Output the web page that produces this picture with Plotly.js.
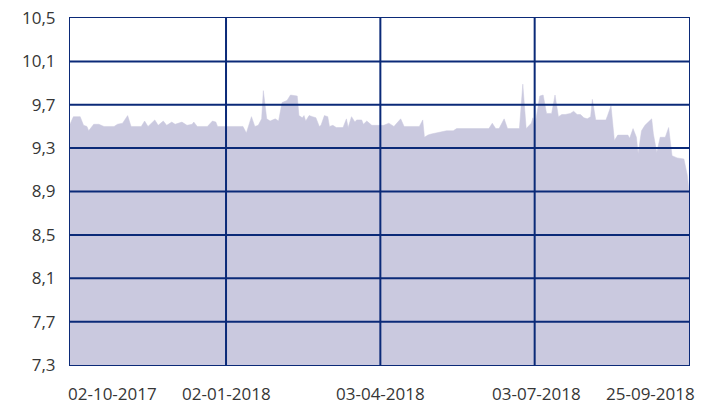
<!DOCTYPE html>
<html>
<head>
<meta charset="utf-8">
<script src="https://cdn.plot.ly/plotly-3.0.1.min.js"></script>
<style>html,body{margin:0;padding:0;background:#fff;}#chart{width:708px;height:405px;}</style>
</head>
<body>
<div id="chart"></div>
<script>
const dates = [
"2017-10-02","2017-10-04","2017-10-08","2017-10-10","2017-10-12","2017-10-13","2017-10-16","2017-10-19","2017-10-22","2017-10-28",
"2017-10-30","2017-11-02","2017-11-05","2017-11-07","2017-11-13","2017-11-15","2017-11-17","2017-11-21","2017-11-23","2017-11-26",
"2017-11-28","2017-12-01","2017-12-03","2017-12-07","2017-12-10","2017-12-13","2017-12-14","2017-12-16","2017-12-22","2017-12-25",
"2017-12-27","2017-12-28","2018-01-12","2018-01-14","2018-01-17","2018-01-19","2018-01-21","2018-01-23","2018-01-24","2018-01-26",
"2018-01-28","2018-01-31","2018-02-02","2018-02-04","2018-02-07","2018-02-09","2018-02-13","2018-02-14","2018-02-16","2018-02-17",
"2018-02-18","2018-02-20","2018-02-22","2018-02-24","2018-02-26","2018-02-27","2018-03-01","2018-03-03","2018-03-04","2018-03-06",
"2018-03-08","2018-03-12","2018-03-14","2018-03-15","2018-03-17","2018-03-19","2018-03-20","2018-03-23","2018-03-24","2018-03-26",
"2018-03-29","2018-04-05","2018-04-08","2018-04-11","2018-04-15","2018-04-17","2018-04-26","2018-04-28","2018-04-29","2018-05-01",
"2018-05-03","2018-05-06","2018-05-07","2018-05-12","2018-05-16","2018-05-17","2018-05-18","2018-06-06","2018-06-08","2018-06-10",
"2018-06-12","2018-06-15","2018-06-17","2018-06-24","2018-06-26","2018-06-28","2018-07-01","2018-07-02","2018-07-03","2018-07-06",
"2018-07-08","2018-07-10","2018-07-13","2018-07-15","2018-07-17","2018-07-19","2018-07-21","2018-07-24","2018-07-26","2018-07-28",
"2018-07-30","2018-08-01","2018-08-03","2018-08-05","2018-08-06","2018-08-08","2018-08-14","2018-08-15","2018-08-17","2018-08-19",
"2018-08-21","2018-08-27","2018-08-28","2018-08-30","2018-09-01","2018-09-02","2018-09-04","2018-09-06","2018-09-10","2018-09-11",
"2018-09-13","2018-09-15","2018-09-18","2018-09-20","2018-09-22","2018-09-25","2018-09-29","2018-10-01","2018-10-02"
];
const values = [
9.52,9.59,9.59,9.51,9.50,9.46,9.52,9.52,9.50,9.50,
9.52,9.53,9.60,9.50,9.50,9.55,9.50,9.56,9.51,9.55,
9.51,9.54,9.52,9.54,9.51,9.52,9.54,9.50,9.50,9.55,
9.54,9.50,9.50,9.44,9.59,9.50,9.51,9.57,9.83,9.57,
9.55,9.57,9.55,9.72,9.74,9.79,9.78,9.60,9.58,9.60,
9.55,9.60,9.59,9.58,9.50,9.51,9.60,9.59,9.50,9.51,
9.49,9.49,9.57,9.49,9.59,9.54,9.56,9.56,9.52,9.55,
9.51,9.51,9.53,9.50,9.57,9.50,9.50,9.56,9.40,9.42,
9.43,9.44,9.45,9.46,9.46,9.47,9.48,9.48,9.53,9.48,
9.48,9.57,9.48,9.48,9.89,9.48,9.53,9.58,9.49,9.78,
9.79,9.62,9.62,9.79,9.59,9.61,9.61,9.62,9.64,9.61,
9.61,9.58,9.57,9.59,9.75,9.56,9.56,9.60,9.69,9.37,
9.42,9.42,9.39,9.48,9.40,9.25,9.46,9.51,9.57,9.43,
9.26,9.40,9.40,9.49,9.23,9.21,9.20,9.05,8.90
];
const xRange = ["2017-10-02","2018-10-02"];
const gridDates = ["2018-01-02","2018-04-03","2018-07-03"];
const xLabels = ["02-10-2017","02-01-2018","03-04-2018","03-07-2018","25-09-2018"];
const yTicks = [7.3,7.7,8.1,8.5,8.9,9.3,9.7,10.1,10.5];

const navy = "#0b2a78";
const textColor = "#363636";
const font = {family: "Open Sans, sans-serif", size: 17, color: textColor};

const trace = {
  type: "scatter", mode: "lines", x: dates, y: values,
  fill: "tozeroy", fillcolor: "#cac9df",
  line: {color: "#cac9df", width: 0.5, shape: "linear"},
  hoverinfo: "skip"
};

// gridlines drawn above the area, built from the tick arrays
const shapes = [];
gridDates.forEach(d => shapes.push({
  type: "line", xref: "x", yref: "paper", x0: d, x1: d, y0: 0, y1: 1,
  line: {color: navy, width: 2}, layer: "above"
}));
yTicks.slice(1, -1).forEach(v => shapes.push({
  type: "line", xref: "paper", yref: "y", x0: 0, x1: 1, y0: v, y1: v,
  line: {color: navy, width: 2}, layer: "above"
}));

const labelPos = [
  {x: -0.005, xanchor: "left"},
  {x: 0.2525, xanchor: "center"},
  {x: 0.5015, xanchor: "center"},
  {x: 0.7535, xanchor: "center"},
  {x: 1.012, xanchor: "right"}
];
const annotations = xLabels.map((t, i) => ({
  text: t, xref: "paper", yref: "paper", x: labelPos[i].x, xanchor: labelPos[i].xanchor,
  y: -0.082, yanchor: "middle", borderpad: 0, showarrow: false, font: font
}));

const layout = {
  width: 708, height: 405,
  margin: {l: 70, r: 19, t: 18, b: 40},
  paper_bgcolor: "#ffffff", plot_bgcolor: "#ffffff",
  separators: ",.",
  showlegend: false,
  font: font,
  xaxis: {
    type: "date", range: xRange, tickvals: gridDates, showticklabels: false,
    showgrid: false,
    showline: true, linecolor: navy, linewidth: 1, mirror: true, layer: "above traces",
    ticks: "", zeroline: false, fixedrange: true
  },
  yaxis: {
    range: [7.3, 10.5], tickvals: yTicks, tickformat: ".1f",
    showgrid: false,
    showline: true, linecolor: navy, linewidth: 1, mirror: true, layer: "above traces",
    ticks: "", ticklabelstandoff: 10, zeroline: false, fixedrange: true,
    tickfont: font
  },
  shapes: shapes,
  annotations: annotations
};

Plotly.newPlot("chart", [trace], layout, {staticPlot: true, displayModeBar: false});
</script>
</body>
</html>
